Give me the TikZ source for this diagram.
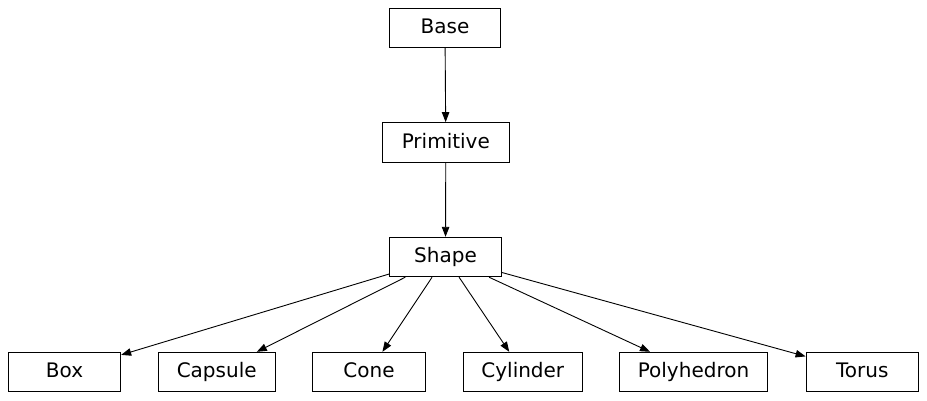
\documentclass[tikz,border=0pt]{standalone}
\usepackage{fontspec}
\setmainfont{DejaVu Sans}
\usetikzlibrary{arrows.meta}
\begin{document}
\begin{tikzpicture}[x=1pt,y=-1pt,
  cls/.style={draw=black, line width=0.9pt, minimum height=39.5pt, inner sep=0pt,
    text height=14.6pt, text depth=3pt, font=\fontsize{20}{24}\selectfont},
  inh/.style={draw=black, line width=0.9pt, -{Triangle[length=10pt,width=7.5pt]}}]
\useasboundingbox (0,0) rectangle (927,400);
\node[cls, minimum width=111pt] (base) at (445,28) {Base};
\node[cls, minimum width=127pt] (primitive) at (445.8,142.3) {Primitive};
\node[cls, minimum width=112pt] (shape) at (445.5,257) {Shape};
\node[cls, minimum width=112.4pt] (box) at (64.5,372) {Box};
\node[cls, minimum width=116.7pt] (capsule) at (216.7,372) {Capsule};
\node[cls, minimum width=113.4pt] (cone) at (369,372) {Cone};
\node[cls, minimum width=119pt] (cylinder) at (522.8,372) {Cylinder};
\node[cls, minimum width=148.4pt] (polyhedron) at (693.5,372) {Polyhedron};
\node[cls, minimum width=112.3pt] (torus) at (862.2,372) {Torus};
\draw[inh] (base) -- (primitive);
\draw[inh] (primitive) -- (shape);
\foreach \c in {box,capsule,cone,cylinder,polyhedron,torus}
  \draw[inh] (shape) -- (\c);
\end{tikzpicture}
\end{document}
